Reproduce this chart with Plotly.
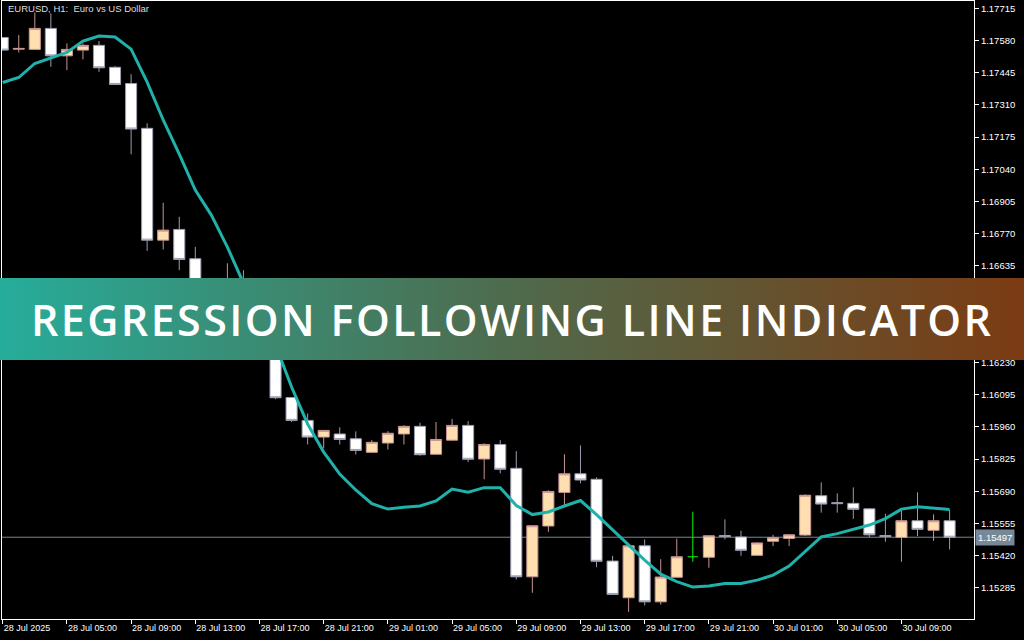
import base64
import pandas as pd
import plotly.graph_objects as go

# ---------------- data (EURUSD H1) ----------------
bar_times = pd.date_range("2025-07-28 01:00", periods=60, freq="h")

opens = [1.17593, 1.17544, 1.17543, 1.17631, 1.17516, 1.17540, 1.17560, 1.17468, 1.17400, 1.17212,
         1.16743, 1.16788, 1.16665, 1.16492, 1.16416, 1.16534, 1.16366, 1.16303, 1.16083, 1.15987,
         1.15917, 1.15930, 1.15910, 1.15853, 1.15892, 1.15930, 1.15962, 1.15845, 1.15904, 1.15966,
         1.15825, 1.15886, 1.15786, 1.15331, 1.15544, 1.15685, 1.15763, 1.15740, 1.15397, 1.15243,
         1.15461, 1.15226, 1.15329, 1.15415, 1.15413, 1.15504, 1.15498, 1.15421, 1.15480, 1.15492,
         1.15506, 1.15671, 1.15642, 1.15639, 1.15616, 1.15504, 1.15496, 1.15566, 1.15526, 1.15566]

highs = [1.17595, 1.17603, 1.17698, 1.17694, 1.17568, 1.17568, 1.17578, 1.17473, 1.17439, 1.17233,
         1.16900, 1.16841, 1.16715, 1.16555, 1.16646, 1.16617, 1.16387, 1.16324, 1.16085, 1.16016,
         1.15946, 1.15958, 1.15941, 1.15904, 1.15942, 1.15967, 1.15977, 1.15980, 1.15993, 1.15984,
         1.15891, 1.15904, 1.15858, 1.15546, 1.15694, 1.15845, 1.15882, 1.15748, 1.15419, 1.15462,
         1.15488, 1.15405, 1.15491, 1.15604, 1.15504, 1.15572, 1.15524, 1.15476, 1.15507, 1.15510,
         1.15677, 1.15727, 1.15681, 1.15706, 1.15617, 1.15595, 1.15607, 1.15685, 1.15593, 1.15611]

lows = [1.17538, 1.17530, 1.17542, 1.17470, 1.17456, 1.17501, 1.17449, 1.17393, 1.17103, 1.16698,
        1.16704, 1.16617, 1.16471, 1.16408, 1.16399, 1.16345, 1.16274, 1.16076, 1.15980, 1.15886,
        1.15870, 1.15886, 1.15844, 1.15850, 1.15865, 1.15886, 1.15839, 1.15844, 1.15902, 1.15812,
        1.15740, 1.15765, 1.15320, 1.15264, 1.15520, 1.15628, 1.15723, 1.15371, 1.15256, 1.15184,
        1.15211, 1.15214, 1.15328, 1.15394, 1.15369, 1.15488, 1.15419, 1.15420, 1.15460, 1.15460,
        1.15502, 1.15600, 1.15600, 1.15574, 1.15498, 1.15478, 1.15394, 1.15502, 1.15482, 1.15446]

closes = [1.17540, 1.17547, 1.17631, 1.17516, 1.17543, 1.17560, 1.17466, 1.17396, 1.17209, 1.16743,
          1.16785, 1.16662, 1.16492, 1.16429, 1.16534, 1.16366, 1.16303, 1.16082, 1.15987, 1.15917,
          1.15945, 1.15907, 1.15861, 1.15895, 1.15933, 1.15962, 1.15843, 1.15907, 1.15966, 1.15824,
          1.15886, 1.15782, 1.15331, 1.15545, 1.15689, 1.15763, 1.15737, 1.15396, 1.15257, 1.15461,
          1.15226, 1.15330, 1.15415, 1.15415, 1.15503, 1.15500, 1.15442, 1.15473, 1.15495, 1.15507,
          1.15673, 1.15636, 1.15638, 1.15614, 1.15507, 1.15500, 1.15566, 1.15530, 1.15566, 1.15497]

regression_line = [1.17404, 1.17425, 1.17484, 1.17507, 1.17530, 1.17578, 1.17599, 1.17595, 1.17544, 1.17406,
                   1.17247, 1.17104, 1.16953, 1.16848, 1.16714, 1.16563, 1.16416, 1.16303, 1.16127, 1.15972,
                   1.15854, 1.15762, 1.15695, 1.15638, 1.15615, 1.15623, 1.15628, 1.15649, 1.15699, 1.15686,
                   1.15705, 1.15705, 1.15630, 1.15592, 1.15603, 1.15628, 1.15651, 1.15592, 1.15527, 1.15464,
                   1.15401, 1.15342, 1.15311, 1.15288, 1.15292, 1.15303, 1.15303, 1.15317, 1.15338, 1.15376,
                   1.15439, 1.15498, 1.15512, 1.15529, 1.15548, 1.15575, 1.15615, 1.15625, 1.15619, 1.15613]

price_ticks = [1.17715, 1.17580, 1.17445, 1.17310, 1.17175, 1.17040, 1.16905, 1.16770, 1.16635,
               1.16500, 1.16365, 1.16230, 1.16095, 1.15960, 1.15825, 1.15690, 1.15555, 1.15420, 1.15285]
# tick labels that sit under the banner are covered in the original
hidden_price_ticks = [1.16500, 1.16365]

chart_title = "EURUSD, H1:\u00a0\u00a0Euro vs US Dollar"
banner_text = "REGRESSION FOLLOWING LINE INDICATOR"
current_price = closes[-1]

# ---------------- layout geometry ----------------
W, H = 1024, 640
ML, MR, MT, MB = 2, 50, 1, 21
PW, PH = W - ML - MR, H - MT - MB


def px_x(p):
    return (p - ML) / PW


def px_y(p):
    return (H - MB - p) / PH


x = list(range(len(bar_times)))
doji = [i for i in x if opens[i] == closes[i]]


def masked(arr):
    return [None if i in doji else arr[i] for i in x]


tick_pos = [i for i, t in enumerate(bar_times) if t.hour % 4 == 1]
tick_text = [bar_times[i].strftime("%d %b %Y") if k == 0 else bar_times[i].strftime("%d %b %H:%M")
             for k, i in enumerate(tick_pos)]

fig = go.Figure()

fig.add_trace(go.Candlestick(
    x=x, open=masked(opens), high=masked(highs), low=masked(lows), close=masked(closes),
    increasing=dict(fillcolor="#FFDFB0", line=dict(color="#C99494", width=1)),
    decreasing=dict(fillcolor="#FFFFFF", line=dict(color="#9C9CB0", width=1)),
    whiskerwidth=0, hoverinfo="skip", showlegend=False,
))

dx, dy = [], []
for i in doji:
    dx += [i, i, None, i - 0.32, i + 0.32, None]
    dy += [lows[i], highs[i], None, opens[i], opens[i], None]
fig.add_trace(go.Scatter(x=dx, y=dy, mode="lines", line=dict(color="#00FF00", width=1),
                         hoverinfo="skip", showlegend=False))

fig.add_trace(go.Scatter(x=x, y=regression_line, mode="lines",
                         line=dict(color="#20B2AA", width=3), hoverinfo="skip", showlegend=False))

axis_font = dict(family="Liberation Sans, Arial, sans-serif", color="#FFFFFF")

fig.update_layout(
    width=W, height=H,
    margin=dict(l=ML, r=MR, t=MT, b=MB, pad=0, autoexpand=False),
    paper_bgcolor="#000000", plot_bgcolor="#000000",
    showlegend=False,
    boxgap=0.0, boxgroupgap=0.31,
    xaxis=dict(
        range=[-0.044, 60.52], tickmode="array", tickvals=tick_pos, ticktext=tick_text,
        ticks="outside", ticklen=4, tickcolor="#FFFFFF", tickwidth=1,
        ticklabelposition="outside right",
        showline=True, linecolor="#FFFFFF", linewidth=1, mirror=True,
        showgrid=False, zeroline=False, rangeslider=dict(visible=False),
        tickfont=dict(size=9, **axis_font), fixedrange=True,
    ),
    yaxis=dict(
        side="right", range=[1.15154, 1.17746], tickmode="array", tickvals=price_ticks,
        ticktext=["" if v in hidden_price_ticks else f"{v:.5f}" for v in price_ticks],
        ticks="outside", ticklen=4, tickcolor="#FFFFFF", tickwidth=1,
        showline=True, linecolor="#FFFFFF", linewidth=1, mirror=True,
        showgrid=False, zeroline=False,
        tickfont=dict(size=9.5, **axis_font), fixedrange=True,
    ),
)

# current price line + label
fig.add_shape(type="line", xref="paper", x0=0, x1=1, yref="y", y0=current_price, y1=current_price,
              line=dict(color="#778899", width=1), layer="below")
fig.add_annotation(xref="paper", yref="y", x=px_x(975), y=current_price, xanchor="left", yanchor="middle",
                   text=f"{current_price:.5f}", showarrow=False, bgcolor="#778899", borderpad=2,
                   font=dict(size=9.5, **axis_font))

# chart title
fig.add_annotation(xref="paper", yref="paper", x=px_x(6), y=px_y(8), xanchor="left", yanchor="middle",
                   text=chart_title, showarrow=False,
                   font=dict(size=9.5, family="Liberation Sans, Arial, sans-serif", color="#DDDDDD"))

# banner with horizontal gradient
svg = ('<svg xmlns="http://www.w3.org/2000/svg" width="1024" height="82" viewBox="0 0 1024 82" '
       'preserveAspectRatio="none"><defs><linearGradient id="g" x1="0" x2="1" y1="0" y2="0">'
       '<stop offset="0" stop-color="#26AD9B"/><stop offset="0.5" stop-color="#4F6A4C"/>'
       '<stop offset="1" stop-color="#7B3B13"/></linearGradient></defs>'
       '<rect x="0" y="0" width="1024" height="82" fill="url(#g)"/></svg>')
src = "data:image/svg+xml;base64," + base64.b64encode(svg.encode()).decode()
fig.add_layout_image(dict(source=src, xref="paper", yref="paper",
                          x=px_x(0), y=px_y(278), sizex=px_x(1024) - px_x(0), sizey=px_y(278) - px_y(360),
                          xanchor="left", yanchor="top", sizing="stretch", layer="above", opacity=1))

fig.add_annotation(xref="paper", yref="paper", x=px_x(512), y=px_y(319), xanchor="center", yanchor="middle",
                   text=f'<span style="letter-spacing:2.4px">{banner_text}</span>', showarrow=False,
                   font=dict(size=43, family="Open Sans, sans-serif", color="#FFFFFF", weight=600))

fig.write_html("out.html", config={"displayModeBar": False},
               post_script="document.body.style.margin='0';document.body.style.overflow='hidden';")
